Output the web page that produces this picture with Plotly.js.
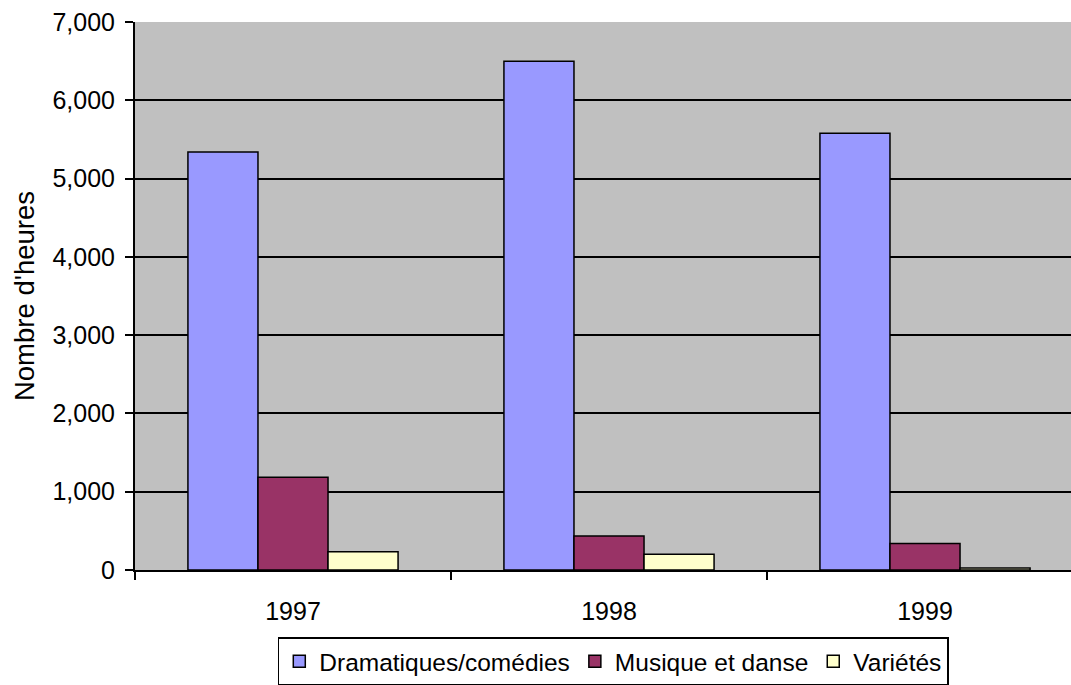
<!DOCTYPE html>
<html>
<head>
<meta charset="utf-8">
<script src="https://cdn.plot.ly/plotly-3.0.1.min.js"></script>
<style>html,body{margin:0;padding:0;background:#fff;overflow:hidden}</style>
</head>
<body>
<div id="chart" style="width:1071px;height:710px"></div>
<script>
const years = ["1997", "1998", "1999"];
const dramatiques = [5340, 6500, 5580];
const musique = [1185, 435, 340];
const varietes = [232, 200, 26];
const seriesNames = ["Dramatiques/comédies", "Musique et danse", "Variétés"];
const yTicks = [0, 1000, 2000, 3000, 4000, 5000, 6000, 7000];
const yTickText = ["0", "1,000", "2,000", "3,000", "4,000", "5,000", "6,000", "7,000"];

const colors = ["#9999FF", "#993366", "#FFFFCC"];
const vals = [dramatiques, musique, varietes];
const font = "Liberation Sans, Arial, sans-serif";

const data = vals.map((v, i) => ({
  type: "bar",
  x: years,
  y: v,
  name: seriesNames[i],
  marker: {color: colors[i], line: {color: "#000", width: 1.5}},
  hoverinfo: "x+y+name"
}));

const layout = {
  width: 1071,
  height: 710,
  margin: {l: 135, r: 0, t: 22, b: 140},
  paper_bgcolor: "#FFFFFF",
  plot_bgcolor: "#C0C0C0",
  barmode: "group",
  bargap: 0.335,
  bargroupgap: 0,
  font: {family: font, size: 25, color: "#000"},
  showlegend: true,
  xaxis: {
    type: "category",
    range: [-0.5, 2.462],
    tickson: "boundaries",
    ticks: "outside",
    ticklen: 8,
    tickwidth: 1.5,
    tickcolor: "#000",
    showline: true,
    linecolor: "#000",
    linewidth: 2,
    showgrid: false,
    ticklabelstandoff: 18,
    tickfont: {family: font, size: 25, color: "#000"},
    fixedrange: true
  },
  yaxis: {
    range: [0, 7000],
    tickvals: yTicks,
    ticktext: yTickText,
    ticks: "outside",
    ticklen: 8,
    tickwidth: 1.5,
    tickcolor: "#000",
    showline: true,
    linecolor: "#000",
    linewidth: 2,
    showgrid: true,
    gridcolor: "#000",
    gridwidth: 1.5,
    zeroline: false,
    ticklabelstandoff: 5,
    tickfont: {family: font, size: 25, color: "#000"},
    title: {text: "Nombre d'heures", font: {family: font, size: 27.5, color: "#000"}, standoff: 10},
    fixedrange: true
  },
  legend: {
    orientation: "h",
    x: 0.511,
    xanchor: "center",
    y: -0.123,
    yanchor: "top",
    bordercolor: "#000",
    borderwidth: 1.5,
    bgcolor: "#FFFFFF",
    font: {family: font, size: 24.5, color: "#000"},
    itemwidth: 30,
    traceorder: "normal"
  }
};

Plotly.newPlot("chart", data, layout, {displayModeBar: false});
</script>
</body>
</html>
